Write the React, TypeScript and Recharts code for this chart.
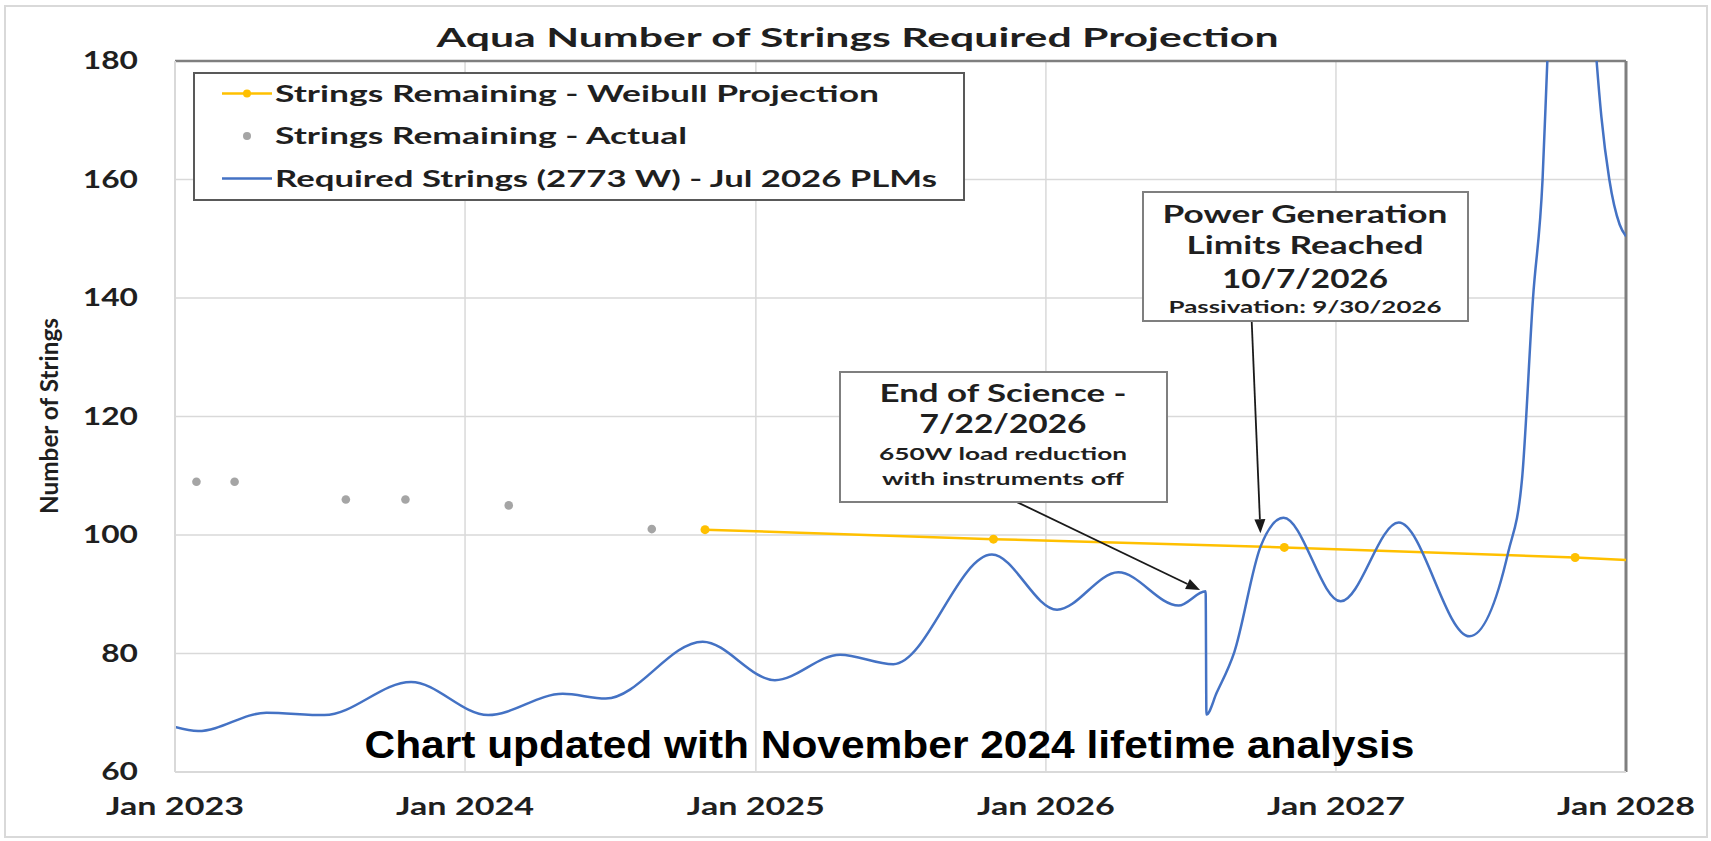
import React from "react";
import {
  ComposedChart,
  Line,
  Scatter,
  XAxis,
  YAxis,
  CartesianGrid,
  Legend,
  ReferenceLine,
} from "recharts";

const W = 1711;
const H = 841;
const CALIBRI = "Lato, 'Open Sans', sans-serif";
const TEXT = "#1f1f1f";

// axis ticks
const yearTicks = ["2023-01-01", "2024-01-01", "2025-01-01", "2026-01-01", "2027-01-01", "2028-01-01"];
const valueTicks = [60, 80, 100, 120, 140, 160, 180];

// Strings Remaining - Weibull Projection
const weibullDates = ["2024-10-29", "2025-10-27", "2026-10-28", "2027-10-29", "2028-01-01"];
const weibullValues = [100.9, 99.3, 97.9, 96.2, 95.8];

// Strings Remaining - Actual
const actualDates = ["2023-01-28", "2023-03-17", "2023-08-04", "2023-10-18", "2024-02-25", "2024-08-23"];
const actualValues = [109, 109, 106, 106, 105, 101];

// Required Strings (2773 W) - Jul 2026 PLMs
const requiredDates = [
  "2023-01-01", "2023-01-30", "2023-04-26", "2023-07-08", "2023-10-25",
  "2024-01-30", "2024-05-03", "2024-06-26", "2024-10-26", "2025-01-25",
  "2025-04-17", "2025-06-23", "2025-10-25", "2026-01-15", "2026-04-02",
  "2026-06-17", "2026-07-21", "2026-07-22", "2026-08-04", "2026-08-26",
  "2026-09-28", "2026-10-27", "2027-01-07", "2027-03-21", "2027-06-18",
  "2027-08-06", "2027-08-23", "2027-09-06", "2027-09-18", "2027-09-24",
  "2027-10-24", "2027-11-25", "2027-12-01", "2027-12-11", "2027-12-24",
  "2028-01-01",
];
const requiredValues = [
  67.6, 66.9, 70.0, 69.6, 75.2,
  69.6, 73.2, 72.4, 82.0, 75.5,
  79.8, 78.2, 96.7, 87.4, 93.7,
  88.1, 90.5, 69.7, 73.4, 80.2,
  98.0, 102.9, 88.8, 102.1, 82.9,
  97.2, 109.2, 140, 160, 180,
  260, 180, 170.6, 160, 152.4,
  150.4,
];

const seriesNames = [
  "Strings Remaining - Weibull Projection",
  "Strings Remaining - Actual",
  "Required Strings (2773 W) - Jul 2026 PLMs",
];
const seriesColors = ["#FFC000", "#A5A5A5", "#4472C4"];
const legendWidths = [604, 412, 662];

const ts = (d: string) => Date.parse(d + "T00:00:00Z");
const toRows = (dates: string[], values: number[]) =>
  dates.map((d, i) => ({ t: ts(d), v: values[i] }));

const weibullRows = toRows(weibullDates, weibullValues);
const actualRows = toRows(actualDates, actualValues);
const requiredRows = toRows(requiredDates, requiredValues);

const XTick = ({ x, y, payload }: any) => (
  <text
    x={x}
    y={y + 43}
    textAnchor="middle"
    fontFamily={CALIBRI}
    fontWeight={700}
    fontSize={24}
    fill={TEXT}
    textLength={138}
    lengthAdjust="spacingAndGlyphs"
  >
    {"Jan " + new Date(payload.value).getUTCFullYear()}
  </text>
);

const YTick = ({ x, y, payload }: any) => {
  const s = String(payload.value);
  return (
    <text
      x={x}
      y={y + 8}
      textAnchor="end"
      fontFamily={CALIBRI}
      fontWeight={700}
      fontSize={24}
      fill={TEXT}
      textLength={s.length * 18.4}
      lengthAdjust="spacingAndGlyphs"
    >
      {s}
    </text>
  );
};

const Arrow = (p: any) => {
  const { x1, y1, x2, y2 } = p;
  const a = Math.atan2(y2 - y1, x2 - x1);
  const len = 14;
  const wid = 5.5;
  const bx = x2 - len * Math.cos(a);
  const by = y2 - len * Math.sin(a);
  const pts = `${x2},${y2} ${bx + wid * Math.sin(a)},${by - wid * Math.cos(a)} ${bx - wid * Math.sin(a)},${by + wid * Math.cos(a)}`;
  return (
    <g>
      <line x1={x1} y1={y1} x2={bx} y2={by} stroke="#1a1a1a" strokeWidth={1.8} />
      <polygon points={pts} fill="#1a1a1a" />
    </g>
  );
};

const LegendBox = () => (
  <svg width={772} height={129} style={{ display: "block" }}>
    <rect x={1} y={1} width={770} height={127} fill="#fff" stroke="#595959" strokeWidth={2} />
    {seriesNames.map((name, i) => {
      const cy = 21.5 + i * 42.5;
      return (
        <g key={name}>
          {i !== 1 && (
            <line x1={29} x2={79} y1={cy} y2={cy} stroke={seriesColors[i]} strokeWidth={2.5} />
          )}
          {i !== 2 && <circle cx={54} cy={cy} r={4} fill={seriesColors[i]} />}
          <text
            x={82}
            y={cy + 8.3}
            fontFamily={CALIBRI}
            fontWeight={700}
            fontSize={23}
            fill={TEXT}
            textLength={legendWidths[i]}
            lengthAdjust="spacingAndGlyphs"
          >
            {name}
          </text>
        </g>
      );
    })}
  </svg>
);

const BoxText = ({ x, y, len, size, weight, children }: any) => (
  <text
    x={x}
    y={y}
    textAnchor="middle"
    fontFamily={CALIBRI}
    fontWeight={weight}
    fontSize={size}
    fill={TEXT}
    textLength={len}
    lengthAdjust="spacingAndGlyphs"
  >
    {children}
  </text>
);

export default function App() {
  const lastW = weibullRows.length - 1;
  return (
    <div style={{ position: "absolute", left: 0, top: 0, width: W, height: H, background: "#fff" }}>
      <ComposedChart
        width={W}
        height={H}
        margin={{ top: 61, right: 85, bottom: 0, left: 0 }}
      >
        <CartesianGrid stroke="#d9d9d9" strokeWidth={1.5} />
        <XAxis
          type="number"
          dataKey="t"
          domain={[ts(yearTicks[0]), ts(yearTicks[yearTicks.length - 1])]}
          ticks={yearTicks.map(ts)}
          allowDataOverflow
          height={69}
          tickSize={0}
          tickMargin={0}
          tickLine={false}
          axisLine={{ stroke: "#d9d9d9", strokeWidth: 2 }}
          tick={<XTick />}
        />
        <YAxis
          type="number"
          dataKey="v"
          domain={[60, 180]}
          ticks={valueTicks}
          allowDataOverflow
          width={175}
          tickSize={0}
          tickMargin={37}
          tickLine={false}
          axisLine={{ stroke: "#d9d9d9", strokeWidth: 2 }}
          tick={<YTick />}
        />
        <ReferenceLine y={180} stroke="#7f7f7f" strokeWidth={2.5} />
        <ReferenceLine x={ts(yearTicks[yearTicks.length - 1])} stroke="#7f7f7f" strokeWidth={3} />
        <Legend
          layout="horizontal"
          verticalAlign="middle"
          align="center"
          wrapperStyle={{ left: 193, top: 72, width: 772, height: 129 }}
          content={() => <LegendBox />}
        />
        <Line
          data={weibullRows}
          dataKey="v"
          name={seriesNames[0]}
          stroke={seriesColors[0]}
          strokeWidth={2.5}
          type="linear"
          dot={(p: any) =>
            p.index < lastW ? (
              <circle key={`w${p.index}`} cx={p.cx} cy={p.cy} r={4.5} fill={seriesColors[0]} />
            ) : (
              <g key={`w${p.index}`} />
            )
          }
          activeDot={false}
          isAnimationActive={false}
        />
        <Scatter
          data={actualRows}
          dataKey="v"
          name={seriesNames[1]}
          fill={seriesColors[1]}
          shape={(p: any) => <circle cx={p.cx} cy={p.cy} r={4.3} fill={seriesColors[1]} />}
          isAnimationActive={false}
        />
        <Line
          data={requiredRows}
          dataKey="v"
          name={seriesNames[2]}
          stroke={seriesColors[2]}
          strokeWidth={2.5}
          type="monotone"
          dot={false}
          activeDot={false}
          isAnimationActive={false}
        />
        <ReferenceLine
          segment={[
            { x: ts("2026-09-17"), y: 136 },
            { x: ts("2026-09-28"), y: 100.3 },
          ]}
          ifOverflow="visible"
          shape={Arrow}
        />
        <ReferenceLine
          segment={[
            { x: ts("2025-11-25"), y: 105.6 },
            { x: ts("2026-07-14"), y: 90.7 },
          ]}
          ifOverflow="visible"
          shape={Arrow}
        />
      </ComposedChart>
      <svg
        width={W}
        height={H}
        style={{ position: "absolute", left: 0, top: 0, pointerEvents: "none" }}
      >
        <rect x={5} y={6} width={1702} height={831} fill="none" stroke="#d9d9d9" strokeWidth={2} />
        <text
          x={436.5}
          y={46.7}
          fontFamily={CALIBRI}
          fontWeight={700}
          fontSize={26}
          fill={TEXT}
          textLength={842}
          lengthAdjust="spacingAndGlyphs"
        >
          Aqua Number of Strings Required Projection
        </text>
        <text
          x={48}
          y={416}
          transform="rotate(-90, 48, 416)"
          textAnchor="middle"
          dominantBaseline="central"
          fontFamily={CALIBRI}
          fontWeight={700}
          fontSize={25}
          fill={TEXT}
          textLength={196}
          lengthAdjust="spacingAndGlyphs"
        >
          Number of Strings
        </text>

        <rect x={1143} y={192} width={325} height={129} fill="#fff" stroke="#7f7f7f" strokeWidth={2} />
        <BoxText x={1305} y={223.3} len={285} size={24} weight={700}>Power Generation</BoxText>
        <BoxText x={1305} y={254} len={237} size={24} weight={700}>Limits Reached</BoxText>
        <BoxText x={1305} y={287.7} len={166} size={26} weight={700}>10/7/2026</BoxText>
        <BoxText x={1305} y={312.7} len={273} size={17} weight={700}>Passivation: 9/30/2026</BoxText>

        <rect x={840} y={372} width={327} height={130} fill="#fff" stroke="#7f7f7f" strokeWidth={2} />
        <BoxText x={1003} y={402.3} len={247} size={24} weight={700}>End of Science -</BoxText>
        <BoxText x={1003} y={433.3} len={167} size={26} weight={700}>7/22/2026</BoxText>
        <BoxText x={1003} y={460} len={248} size={17} weight={700}>650W load reduction</BoxText>
        <BoxText x={1003} y={485} len={242} size={17} weight={700}>with instruments off</BoxText>

        <text
          x={364.5}
          y={758}
          fontFamily="'Liberation Sans', Arial, sans-serif"
          fontWeight={700}
          fontSize={38}
          fill="#000"
          textLength={1050}
          lengthAdjust="spacingAndGlyphs"
        >
          Chart updated with November 2024 lifetime analysis
        </text>
      </svg>
    </div>
  );
}
